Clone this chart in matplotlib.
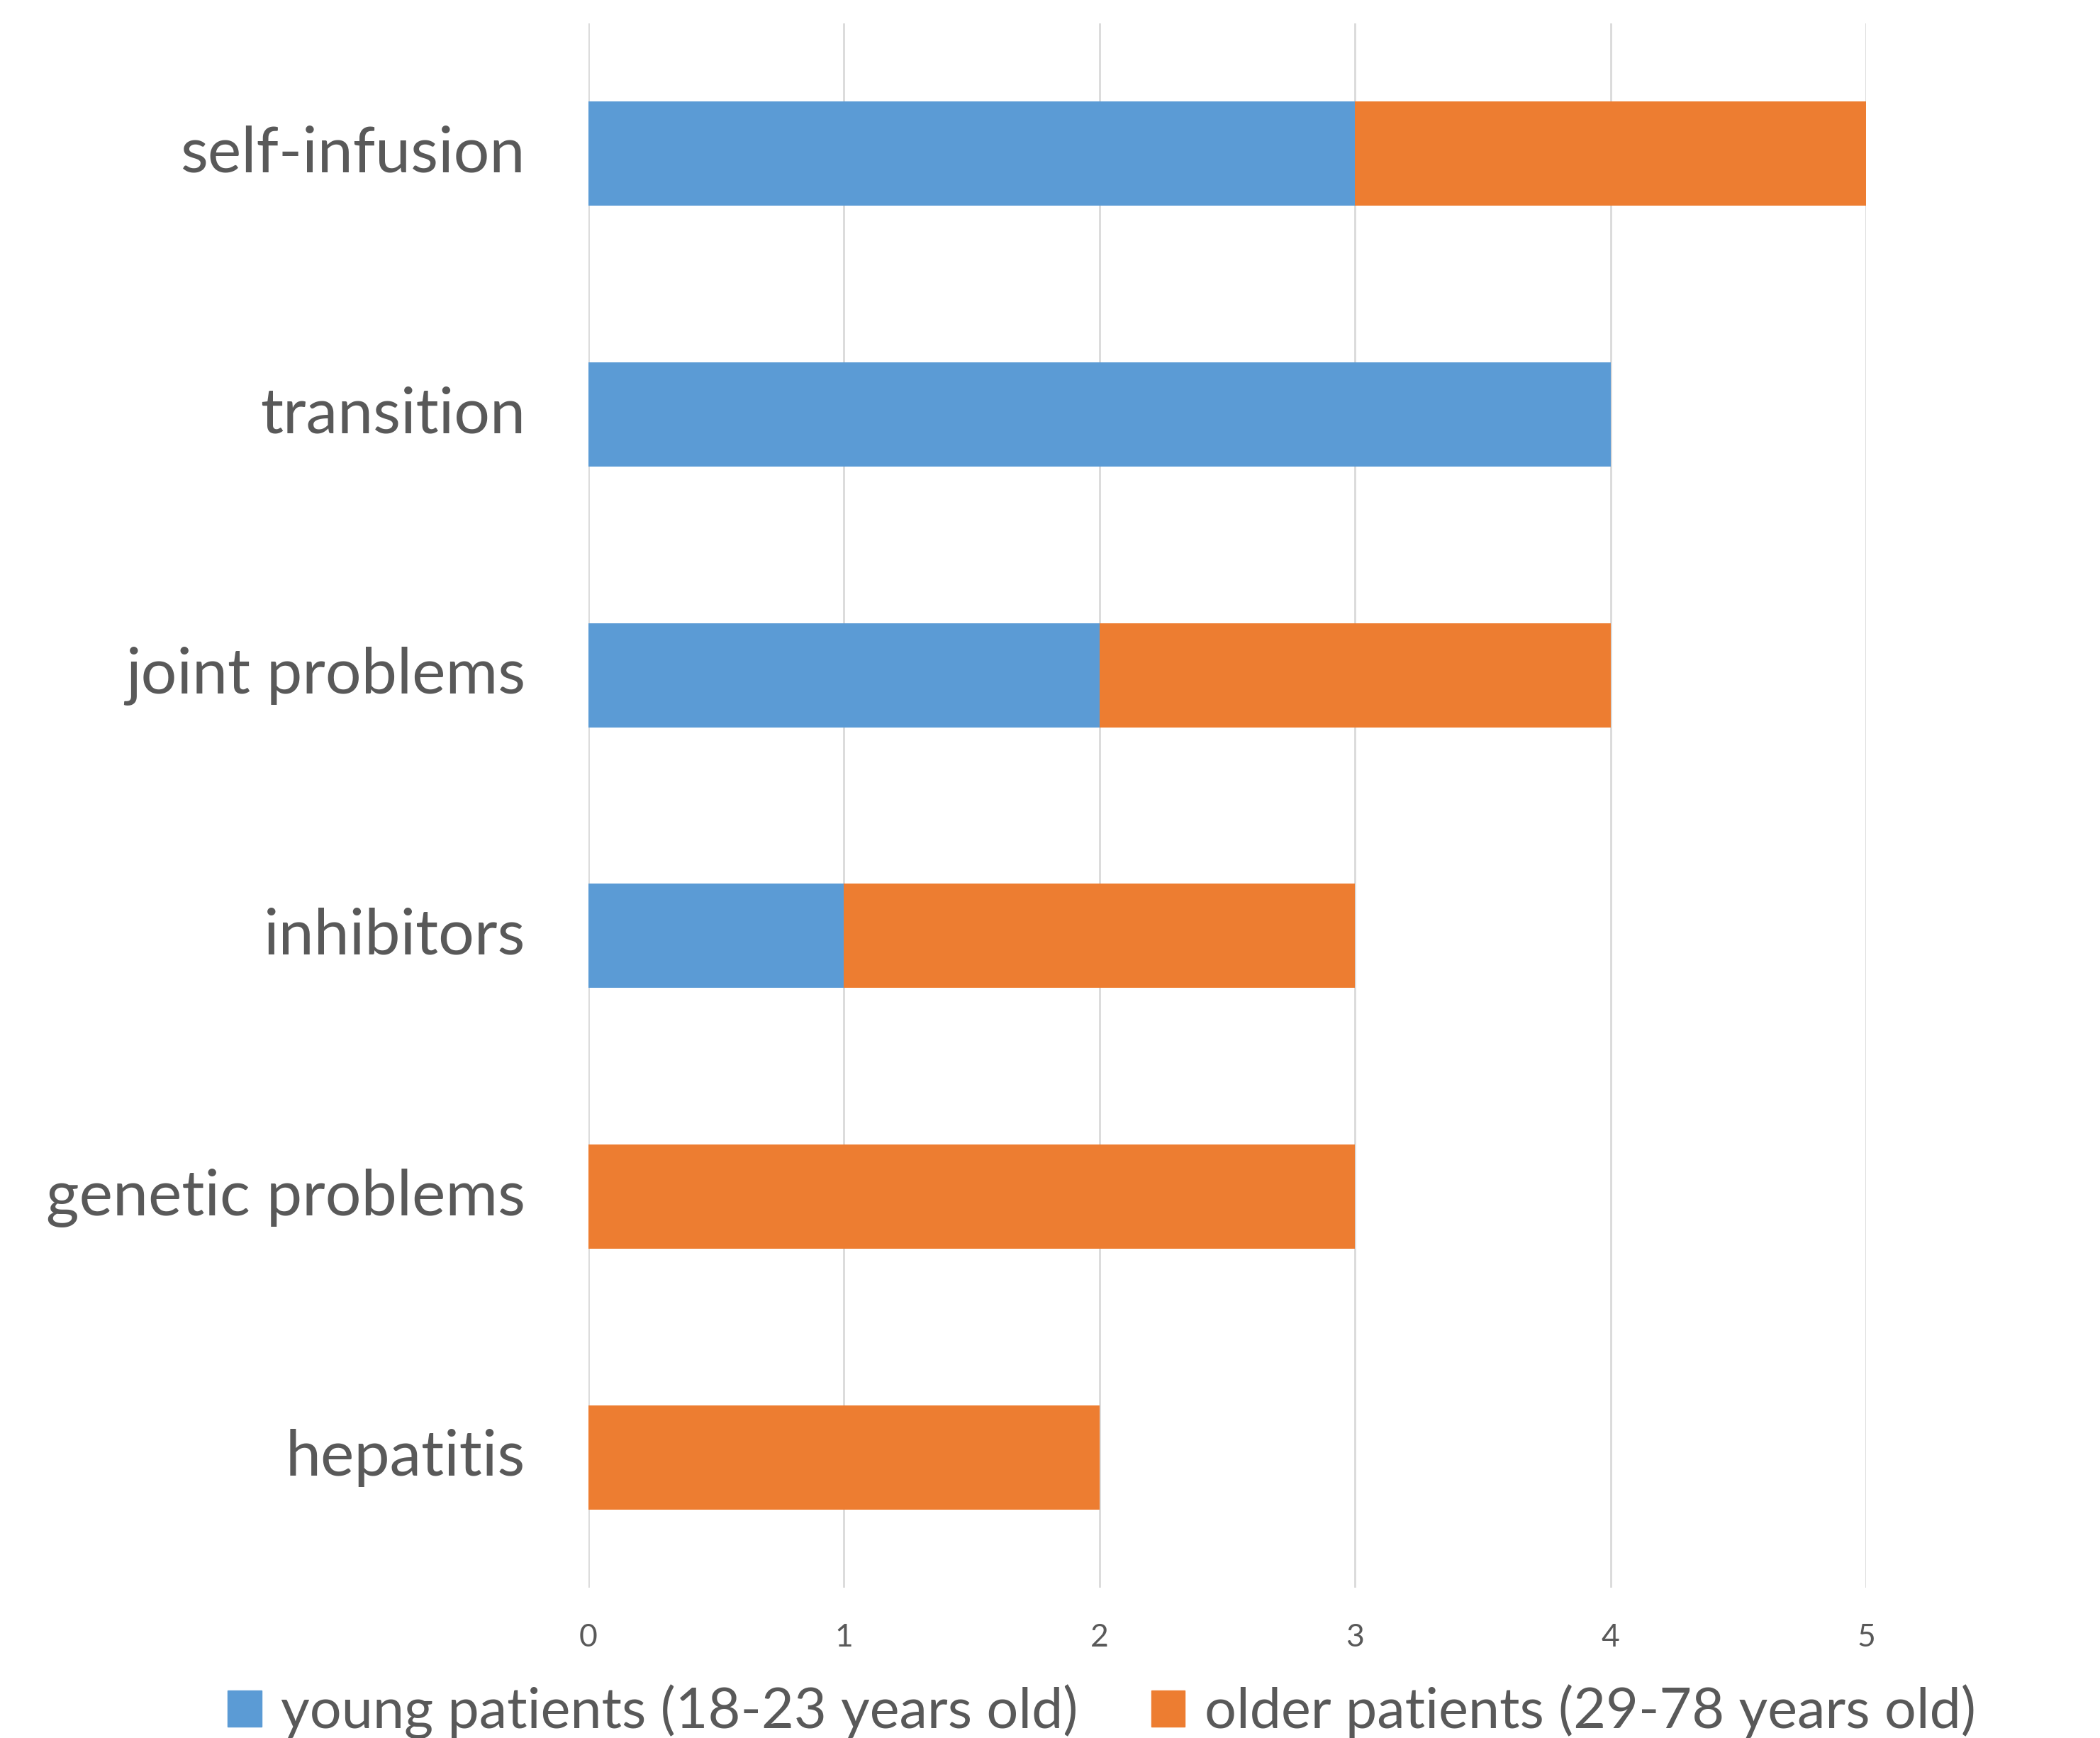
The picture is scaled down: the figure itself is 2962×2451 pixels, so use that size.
import matplotlib
matplotlib.use("Agg")
import matplotlib.pyplot as plt
import matplotlib.transforms as mtransforms
from matplotlib.patches import Patch

categories = ["self-infusion", "transition", "joint problems", "inhibitors", "genetic problems", "hepatitis"]
young = [3, 4, 2, 1, 0, 0]
older = [2, 0, 2, 2, 3, 2]
series_labels = ["young patients (18-23 years old)", "older patients (29-78 years old)"]
xticks = [0, 1, 2, 3, 4, 5]

BLUE = "#5B9BD5"
ORANGE = "#ED7D31"
TXT = "#595959"
GRID = "#D9D9D9"

plt.rcParams['font.family'] = ['Lato', 'DejaVu Sans']

fig = plt.figure(figsize=(29.62, 24.51), dpi=100)
ax = fig.add_axes([830/2962, 1-2239/2451, (2632-830)/2962, (2239-33)/2451])

y = list(range(len(categories)))
ax.barh(y, young, height=0.4, color=BLUE, zorder=3)
ax.barh(y, older, left=young, height=0.4, color=ORANGE, zorder=3)

ax.set_ylim(len(categories)-0.5, -0.5)
ax.set_xlim(0, 5)
ax.set_xticks(xticks)
ax.set_xticklabels([str(t) for t in xticks], fontsize=32, color=TXT)
ax.set_yticks(y)
ax.set_yticklabels(categories, fontsize=64.5, color=TXT, va='center_baseline')
ax.tick_params(axis='both', length=0)
ax.tick_params(axis='y', pad=64)
ax.tick_params(axis='x', pad=36)
ax.grid(axis='x', color=GRID, linewidth=2, zorder=0)
for s in ax.spines.values():
    s.set_visible(False)

offset = mtransforms.ScaledTranslation(0, 5/72, fig.dpi_scale_trans)
for lbl in ax.get_yticklabels():
    lbl.set_transform(lbl.get_transform() + offset)

handles = [Patch(color=BLUE), Patch(color=ORANGE)]
fig.legend(handles, series_labels, loc='center', bbox_to_anchor=(0.5246, 0.015), ncol=2,
           frameon=False, fontsize=57, labelcolor=TXT, handlelength=0.6, handleheight=0.6,
           handletextpad=0.35, columnspacing=1.3)

fig.savefig("out.png", dpi=100)
